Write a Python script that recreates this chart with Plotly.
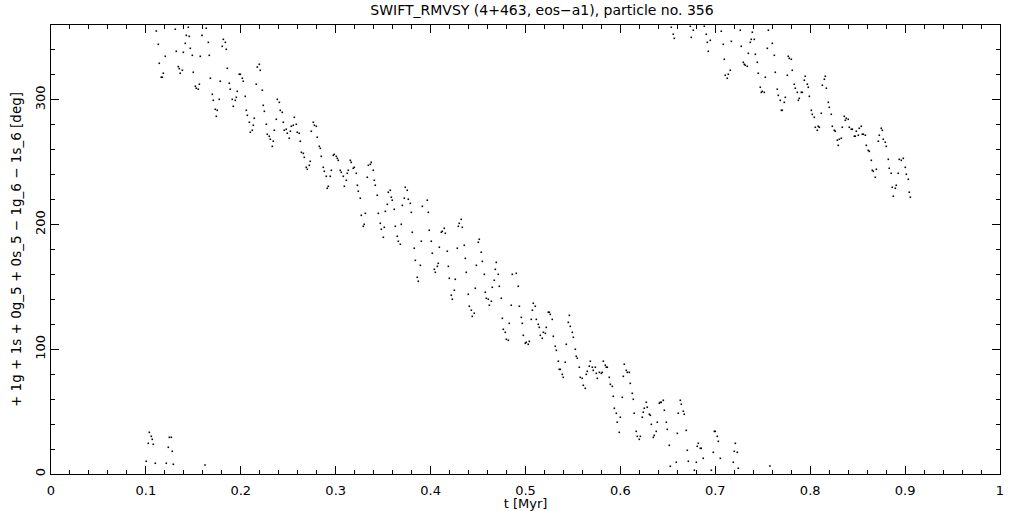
import plotly.graph_objects as go

# Time [Myr] and resonant angle [deg]
t_bottom_early = [0.1004, 0.1025, 0.1036, 0.1057, 0.1067, 0.1078, 0.1099, 0.1215, 0.1236, 0.1247,
                  0.1268, 0.1278, 0.1289, 0.1623]
phi_bottom_early = [10.2, 24.6, 33.4, 30.2, 27.8, 23.8, 8.6, 8.6, 21.4, 29.4,
                    29.4, 18.2, 7.8, 7.2]

t_main = [
    0.1110, 0.1131, 0.1141, 0.1162, 0.1173, 0.1183, 0.1204, 0.1310, 0.1320, 0.1341, 0.1352, 0.1362,
    0.1384, 0.1394, 0.1415, 0.1426, 0.1447, 0.1457, 0.1468, 0.1489, 0.1499, 0.1521, 0.1531, 0.1552,
    0.1563, 0.1573, 0.1591, 0.1636, 0.1658, 0.1668, 0.1679, 0.1700, 0.1710, 0.1731, 0.1742, 0.1752,
    0.1773, 0.1784, 0.1805, 0.1816, 0.1837, 0.1847, 0.1858, 0.1879, 0.1889, 0.1910, 0.1921, 0.1942,
    0.1953, 0.1963, 0.1984, 0.1995, 0.2016, 0.2026, 0.2047, 0.2058, 0.2069, 0.2090, 0.2100, 0.2121,
    0.2132, 0.2142, 0.2163, 0.2174, 0.2195, 0.2205, 0.2227, 0.2237, 0.2248, 0.2269, 0.2279, 0.2300,
    0.2311, 0.2332, 0.2342, 0.2353, 0.2374, 0.2385, 0.2406, 0.2416, 0.2437, 0.2448, 0.2458, 0.2479,
    0.2490, 0.2511, 0.2522, 0.2532, 0.2553, 0.2564, 0.2585, 0.2595, 0.2616, 0.2627, 0.2638, 0.2659,
    0.2669, 0.2690, 0.2701, 0.2722, 0.2732, 0.2743, 0.2764, 0.2775, 0.2796, 0.2806, 0.2827, 0.2838,
    0.2848, 0.2869, 0.2880, 0.2901, 0.2911, 0.2922, 0.2943, 0.2954, 0.2975, 0.2985, 0.3006, 0.3017,
    0.3027, 0.3048, 0.3059, 0.3080, 0.3091, 0.3112, 0.3122, 0.3133, 0.3154, 0.3164, 0.3185, 0.3196,
    0.3217, 0.3228, 0.3238, 0.3259, 0.3270, 0.3291, 0.3301, 0.3312, 0.3333, 0.3344, 0.3365, 0.3375,
    0.3396, 0.3407, 0.3417, 0.3438, 0.3449, 0.3470, 0.3481, 0.3502, 0.3512, 0.3523, 0.3544, 0.3554,
    0.3575, 0.3586, 0.3596, 0.3617, 0.3628, 0.3649, 0.3660, 0.3681, 0.3691, 0.3702, 0.3723, 0.3733,
    0.3754, 0.3765, 0.3786, 0.3797, 0.3807, 0.3828, 0.3839, 0.3860, 0.3870, 0.3892, 0.3902, 0.3913,
    0.3965, 0.3976, 0.3986, 0.4007, 0.4018, 0.4039, 0.4050, 0.4071, 0.4081, 0.4092, 0.4113, 0.4123,
    0.4144, 0.4155, 0.4176, 0.4187, 0.4197, 0.4218, 0.4229, 0.4250, 0.4260, 0.4281, 0.4292, 0.4302,
    0.4323, 0.4334, 0.4355, 0.4366, 0.4376, 0.4397, 0.4408, 0.4429, 0.4439, 0.4460, 0.4471, 0.4482,
    0.4503, 0.4513, 0.4534, 0.4545, 0.4566, 0.4576, 0.4587, 0.4608, 0.4619, 0.4640, 0.4650, 0.4671,
    0.4682, 0.4692, 0.4713, 0.4724, 0.4745, 0.4756, 0.4766, 0.4787, 0.4798, 0.4819, 0.4829, 0.4850,
    0.4861, 0.4903, 0.4924, 0.4935, 0.4956, 0.4966, 0.4977, 0.4998, 0.5008, 0.5029, 0.5040, 0.5061,
    0.5072, 0.5082, 0.5103, 0.5114, 0.5135, 0.5145, 0.5156, 0.5177, 0.5188, 0.5209, 0.5219, 0.5240,
    0.5251, 0.5261, 0.5282, 0.5293, 0.5314, 0.5325, 0.5346, 0.5356, 0.5367, 0.5388, 0.5398, 0.5419,
    0.5430, 0.5451, 0.5462, 0.5472, 0.5493, 0.5504, 0.5525, 0.5535, 0.5546, 0.5567, 0.5577, 0.5598,
    0.5609, 0.5630, 0.5641, 0.5651, 0.5672, 0.5683, 0.5704, 0.5714, 0.5736, 0.5746, 0.5757, 0.5778,
    0.5799, 0.5809, 0.5820, 0.5841, 0.5851, 0.5862, 0.5883, 0.5894, 0.5915, 0.5925, 0.5936, 0.5957,
    0.5967, 0.5988, 0.5999, 0.6020, 0.6031, 0.6041, 0.6062, 0.6073, 0.6094, 0.6104, 0.6125, 0.6136,
    0.6146, 0.6167, 0.6178, 0.6199, 0.6210, 0.6231, 0.6241, 0.6252, 0.6273, 0.6283, 0.6305, 0.6315,
    0.6326, 0.6347, 0.6357, 0.6378, 0.6389, 0.6410, 0.6420, 0.6431, 0.6452, 0.6463, 0.6484, 0.6494,
    0.6515, 0.6526, 0.6589, 0.6600, 0.6610, 0.6631, 0.6642, 0.6663, 0.6673, 0.6694, 0.6705, 0.6716,
    0.6779, 0.6800, 0.6810, 0.6821, 0.6842, 0.6852, 0.6873, 0.6958, 0.6979, 0.6990, 0.7000, 0.7021,
    0.7032, 0.7053, 0.7190, 0.7200, 0.7211, 0.7232, 0.7242, 0.7576,
]
phi_main = [
    355.2, 344.5, 329.3, 318.1, 318.1, 321.3, 334.9, 356.6, 338.9, 326.6, 325.0, 321.3,
    323.7, 338.1, 345.3, 351.7, 358.2, 350.9, 341.3, 335.7, 322.1, 310.9, 309.3, 308.5,
    312.5, 334.9, 351.7, 357.4, 346.1, 335.7, 317.3, 304.4, 299.6, 292.4, 286.8, 291.6,
    300.4, 314.9, 342.9, 348.5, 346.1, 340.5, 325.3, 313.3, 308.5, 300.4, 294.8, 299.6,
    302.0, 306.8, 320.5, 320.5, 317.3, 314.9, 302.8, 291.6, 287.6, 282.0, 274.0, 275.6,
    279.6, 285.2, 312.5, 326.3, 328.5, 323.7, 307.7, 295.6, 290.8, 280.4, 272.4, 270.8,
    268.4, 262.7, 266.8, 275.6, 284.4, 300.4, 298.0, 291.6, 290.0, 282.0, 275.6, 276.4,
    273.2, 269.2, 274.8, 278.8, 279.6, 286.0, 280.4, 274.0, 273.2, 266.8, 257.9, 257.1,
    253.9, 245.9, 244.3, 247.5, 250.7, 274.8, 282.0, 279.6, 278.8, 270.0, 262.7, 261.1,
    254.7, 245.9, 242.7, 238.7, 229.1, 230.7, 238.7, 243.5, 255.5, 256.3, 254.7, 253.1,
    251.5, 243.5, 241.9, 238.7, 230.7, 235.5, 241.1, 243.5, 251.5, 249.9, 245.1, 245.9,
    241.1, 231.5, 226.7, 221.1, 207.4, 198.6, 200.2, 209.0, 237.9, 247.5, 248.3, 249.9,
    243.5, 235.5, 231.5, 223.5, 209.0, 201.0, 196.2, 189.8, 197.8, 210.6, 216.2, 225.9,
    227.5, 221.9, 219.5, 212.2, 198.6, 190.6, 186.6, 184.2, 200.2, 215.4, 221.1, 229.9,
    227.5, 220.3, 217.0, 209.8, 193.8, 181.0, 171.3, 157.7, 154.5, 167.3, 186.6, 214.6,
    219.5, 209.8, 195.4, 186.6, 177.0, 164.1, 161.7, 166.5, 168.9, 181.8, 193.8, 194.6,
    197.0, 193.0, 178.6, 166.5, 156.9, 143.3, 140.1, 147.3, 156.1, 181.0, 198.6, 201.0,
    204.2, 197.8, 183.4, 172.9, 161.7, 144.1, 134.5, 131.3, 126.4, 128.9, 148.9, 167.3,
    185.8, 188.2, 177.8, 170.5, 160.1, 145.7, 140.9, 140.1, 135.3, 138.5, 149.7, 155.3,
    164.1, 169.7, 160.1, 150.5, 140.9, 124.8, 116.0, 113.6, 108.0, 107.2, 120.8, 135.3,
    160.1, 160.9, 150.5, 134.5, 125.6, 120.8, 111.2, 104.8, 105.6, 104.0, 106.4, 124.0,
    131.3, 136.9, 134.5, 124.0, 120.0, 117.6, 111.2, 108.8, 113.6, 112.8, 117.6, 129.7,
    129.7, 128.0, 124.0, 110.4, 102.4, 99.2, 90.4, 83.9, 83.9, 79.9, 77.5, 89.6,
    104.0, 121.6, 127.2, 118.4, 113.6, 109.6, 100.0, 94.4, 92.8, 85.6, 77.5, 76.7,
    71.1, 68.7, 79.9, 82.3, 86.4, 90.4, 85.6, 83.1, 85.6, 80.7, 76.7, 81.5,
    80.7, 81.5, 90.4, 87.2, 85.6, 85.6, 77.5, 71.9, 70.3, 62.3, 52.7, 48.7,
    41.5, 33.4, 45.5, 61.5, 78.3, 88.0, 83.1, 81.5, 81.5, 72.7, 64.7, 59.9,
    48.7, 34.2, 30.2, 27.8, 30.2, 45.5, 49.5, 52.7, 57.5, 53.5, 47.9, 47.1,
    39.8, 29.4, 31.0, 34.2, 41.5, 56.7, 57.5, 57.5, 59.1, 51.1, 41.5, 35.8,
    23.0, 6.2, 9.4, 32.6, 48.7, 59.1, 55.9, 50.3, 47.9, 35.0, 19.0, 10.2,
    3.0, 9.4, 22.2, 24.6, 20.6, 20.6, 12.6, 3.0, 17.4, 34.2, 34.2, 30.2,
    26.2, 12.6, 9.4, 18.2, 24.6, 17.4, 4.6, 6.4,
]

t_top_late = [
    0.6536, 0.6557, 0.6568, 0.6737, 0.6747, 0.6768, 0.6884, 0.6905, 0.6916, 0.6926, 0.6947, 0.7063,
    0.7084, 0.7095, 0.7105, 0.7126, 0.7137, 0.7158, 0.7169, 0.7263, 0.7274, 0.7295, 0.7306, 0.7316,
    0.7337, 0.7348, 0.7369, 0.7379, 0.7390, 0.7411, 0.7422, 0.7443, 0.7453, 0.7474, 0.7485, 0.7495,
    0.7516, 0.7527, 0.7548, 0.7559, 0.7601, 0.7622, 0.7632, 0.7653, 0.7664, 0.7685, 0.7696, 0.7706,
    0.7727, 0.7738, 0.7759, 0.7769, 0.7780, 0.7801, 0.7811, 0.7832, 0.7843, 0.7864, 0.7875, 0.7885,
    0.7906, 0.7917, 0.7938, 0.7948, 0.7970, 0.7980, 0.7991, 0.8012, 0.8022, 0.8043, 0.8054, 0.8075,
    0.8085, 0.8096, 0.8117, 0.8128, 0.8149, 0.8159, 0.8170, 0.8191, 0.8201, 0.8222, 0.8233, 0.8254,
    0.8264, 0.8286, 0.8296, 0.8307, 0.8328, 0.8338, 0.8359, 0.8370, 0.8380, 0.8401, 0.8412, 0.8433,
    0.8444, 0.8465, 0.8475, 0.8486, 0.8507, 0.8517, 0.8538, 0.8549, 0.8560, 0.8581, 0.8591, 0.8612,
    0.8623, 0.8644, 0.8654, 0.8665, 0.8686, 0.8697, 0.8718, 0.8728, 0.8749, 0.8760, 0.8770, 0.8791,
    0.8802, 0.8823, 0.8833, 0.8854, 0.8865, 0.8876, 0.8897, 0.8907, 0.8928, 0.8939, 0.8960, 0.8981,
    0.9002, 0.9013, 0.9034, 0.9044, 0.9055,
]
phi_top_late = [
    358.2, 352.6, 349.3, 359.0, 350.1, 355.8, 359.0, 352.6, 346.1, 338.9, 347.7, 355.0,
    344.5, 332.5, 319.7, 317.3, 320.5, 323.7, 346.9, 355.8, 342.9, 330.1, 328.5, 327.7,
    326.9, 337.3, 346.1, 348.5, 354.2, 348.5, 336.5, 330.1, 321.3, 310.1, 306.0, 306.8,
    306.0, 318.1, 341.3, 355.8, 345.3, 335.7, 322.1, 308.5, 303.6, 299.6, 291.6, 291.6,
    298.0, 302.0, 319.7, 334.9, 333.3, 332.5, 323.7, 312.5, 309.3, 306.0, 299.6, 301.2,
    306.0, 306.0, 315.7, 318.9, 312.5, 310.1, 302.8, 291.6, 288.4, 286.0, 278.0, 275.6,
    278.8, 278.0, 289.2, 311.7, 316.5, 318.9, 309.3, 298.0, 294.0, 288.4, 278.8, 275.6,
    274.8, 267.6, 263.5, 268.4, 269.2, 278.0, 286.8, 283.6, 285.2, 284.4, 278.0, 276.4,
    276.4, 270.8, 270.8, 274.8, 271.6, 277.2, 278.8, 272.4, 272.4, 271.6, 263.5, 259.5,
    258.7, 251.5, 243.5, 242.7, 237.9, 244.3, 266.8, 271.6, 277.2, 275.6, 268.4, 266.0,
    262.7, 252.3, 245.1, 241.1, 229.9, 222.7, 229.1, 231.5, 241.1, 252.3, 251.5, 253.1,
    245.9, 240.3, 236.3, 225.9, 221.9,
]

t_all = t_bottom_early + t_main + t_top_late
phi_all = phi_bottom_early + phi_main + phi_top_late

title_text = "SWIFT_RMVSY (4+463, eos−a1), particle no. 356"
x_title = "t [Myr]"
y_title = "+ 1g + 1s + 0g_5 + 0s_5 − 1g_6 − 1s_6 [deg]"
x_ticks = [0, 0.1, 0.2, 0.3, 0.4, 0.5, 0.6, 0.7, 0.8, 0.9, 1]
x_tick_labels = ["0", "0.1", "0.2", "0.3", "0.4", "0.5", "0.6", "0.7", "0.8", "0.9", "1"]
y_ticks = [0, 100, 200, 300]
y_tick_labels = ["0", "100", "200", "300"]

font_family = "DejaVu Sans, Liberation Sans, sans-serif"
fsize = 13

fig = go.Figure()
fig.add_trace(go.Scatter(
    x=t_all, y=phi_all, mode="markers",
    marker=dict(symbol="square", size=1.6, color="black", line=dict(width=0)),
    hoverinfo="x+y", showlegend=False,
))

axis_common = dict(
    showline=True, linecolor="black", linewidth=1, mirror="ticks",
    ticks="inside", ticklen=8, tickwidth=1, tickcolor="black",
    showgrid=False, zeroline=False, automargin=False,
    tickfont=dict(family=font_family, size=fsize, color="black"),
)

fig.update_xaxes(
    range=[0, 1], tickvals=x_ticks, ticktext=x_tick_labels, ticklabelstandoff=4,
    minor=dict(ticks="inside", ticklen=4, tickcolor="black", dtick=0.02, showgrid=False),
    title=dict(text=x_title, font=dict(family=font_family, size=fsize, color="black"), standoff=0),
    **axis_common,
)
fig.update_yaxes(
    range=[0, 360], tickvals=y_ticks, ticktext=y_tick_labels, tickangle=-90,
    minor=dict(ticks="inside", ticklen=4, tickcolor="black", dtick=20, showgrid=False),
    title=dict(text=y_title, font=dict(family=font_family, size=13.5, color="black"), standoff=8),
    **axis_common,
)

fig.update_layout(
    width=1021, height=511,
    margin=dict(l=51, r=21, t=25, b=37),
    paper_bgcolor="white", plot_bgcolor="white",
    title=dict(text=title_text, x=542 / 1021, xref="container", xanchor="center",
               y=1 - 10 / 511, yref="container", yanchor="middle",
               font=dict(family=font_family, size=14, color="black")),
)

fig.write_html("out.html", config={"displayModeBar": False},
               post_script="document.body.style.margin='0';")
